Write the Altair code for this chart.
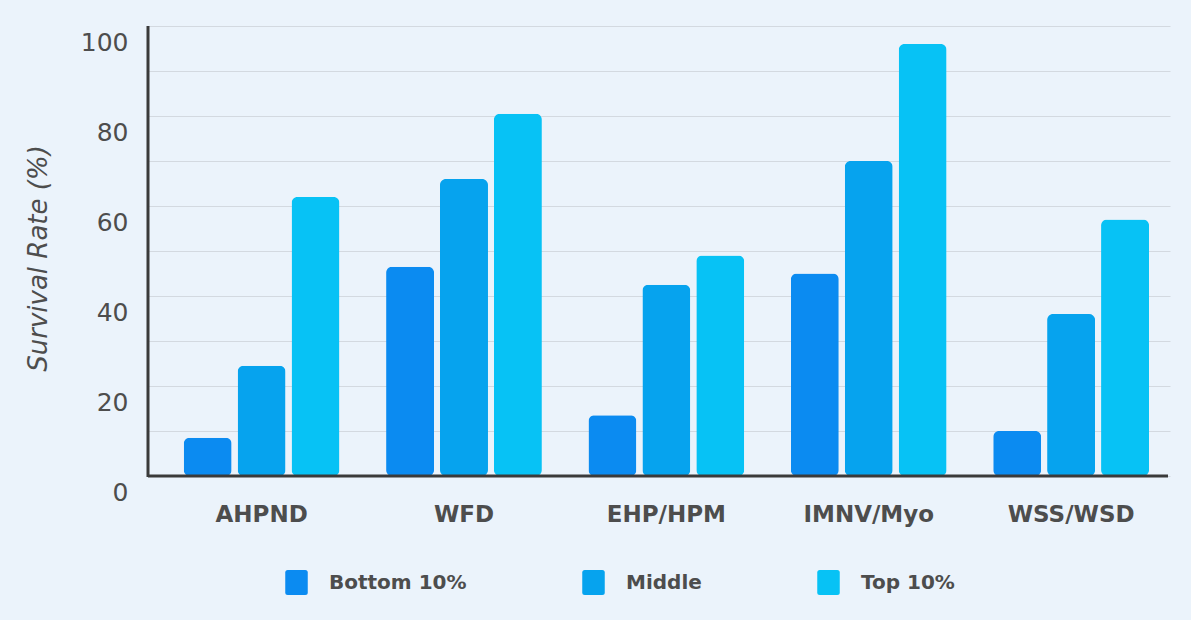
import altair as alt
import pandas as pd

categories = ["AHPND", "WFD", "EHP/HPM", "IMNV/Myo", "WSS/WSD"]
groups = ["Bottom 10%", "Middle", "Top 10%"]
bottom = [8.5, 46.5, 13.5, 45, 10]
middle = [24.5, 66, 42.5, 70, 36]
top = [62, 80.5, 49, 96, 57]
colors = ["#0B8BF1", "#06A3EE", "#07C2F5"]
y_ticks = [0, 10, 20, 30, 40, 50, 60, 70, 80, 90, 100]

rows = []
for i, c in enumerate(categories):
    for g, vals in zip(groups, [bottom, middle, top]):
        rows.append({"Disease": c, "Group": g, "Rate": vals[i]})
df = pd.DataFrame(rows)

FONT = "DejaVu Sans"
TXT = "#4d4d4d"
BG = "#EBF3FB"
ROUNDED = ("M-0.7,-1 L0.7,-1 Q0.9,-1 0.9,-0.8 L0.9,0.8 Q0.9,1 0.7,1 "
           "L-0.7,1 Q-0.9,1 -0.9,0.8 L-0.9,-0.8 Q-0.9,-1 -0.7,-1 Z")

chart = alt.Chart(df).mark_bar(cornerRadius=6).encode(
    x=alt.X("Disease:N", sort=categories,
            scale=alt.Scale(paddingInner=0.23, paddingOuter=0.14, align=0.63),
            axis=alt.Axis(title=None, labelAngle=0, labelFontSize=23, labelColor=TXT,
                          labelFont=FONT, labelFontWeight="bold", labelPadding=27,
                          ticks=False, domain=False, grid=False)),
    xOffset=alt.XOffset("Group:N", sort=groups, scale=alt.Scale(paddingInner=0.11)),
    y=alt.Y("Rate:Q", scale=alt.Scale(domain=[0, 100], nice=False),
            axis=alt.Axis(title="Survival Rate (%)", values=y_ticks,
                          labelExpr="datum.value % 20 == 0 ? datum.label : ''",
                          labelFontSize=25, labelColor=TXT, labelFont=FONT,
                          labelOffset=16, labelPadding=20, ticks=False, domain=False,
                          gridColor="#d3d9e0", gridWidth=1.2,
                          titleFontSize=26, titleColor=TXT, titleFont=FONT,
                          titleFontWeight="normal", titleFontStyle="italic",
                          titleX=-110, titleY=232, titleAngle=270,
                          titleAlign="center", titleBaseline="middle")),
    color=alt.Color("Group:N", sort=groups,
                    scale=alt.Scale(domain=groups, range=colors),
                    legend=alt.Legend(title=None, orient="none", direction="horizontal",
                                      legendX=136, legendY=544,
                                      labelFontSize=20, labelColor=TXT, labelFont=FONT,
                                      labelFontWeight="bold",
                                      symbolType=ROUNDED,
                                      symbolSize=625, symbolStrokeWidth=0,
                                      symbolOpacity=1, columnPadding=114, labelOffset=20)),
)

axis_bottom = alt.Chart(pd.DataFrame({"a": [0]})).mark_rule(color="#3a3a3a", strokeWidth=3).encode(
    x=alt.value(0), x2=alt.value(1020), y=alt.value(450)
)
axis_left = alt.Chart(pd.DataFrame({"a": [0]})).mark_rule(color="#3a3a3a", strokeWidth=3).encode(
    x=alt.value(0), y=alt.value(0), y2=alt.value(451)
)

final = alt.layer(chart, axis_bottom, axis_left).properties(
    width=1022, height=450,
    background=BG,
    padding={"left": 148, "top": 26, "right": 21, "bottom": 144},
    autosize=alt.AutoSizeParams(type="none"),
).configure_view(stroke=None, fill=BG)

final.save("out.html", embed_options={"renderer": "svg", "actions": False})
